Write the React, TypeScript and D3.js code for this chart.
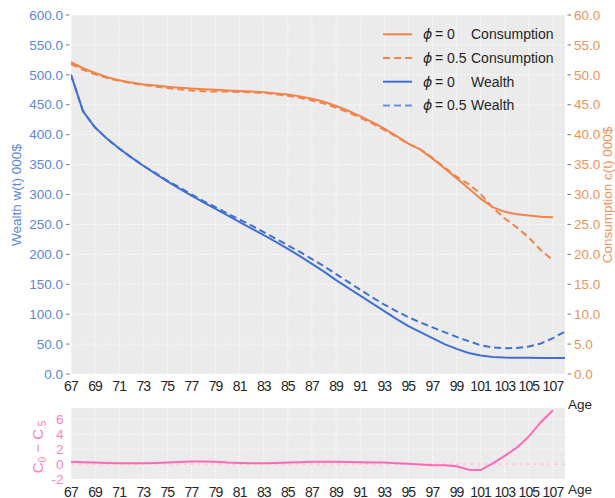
import React from "react";
import * as d3 from "d3";

const agesW = d3.range(67, 109);
const agesC = d3.range(67, 108);

const wealthPhi0 = [500, 439, 412, 393, 377, 362, 348, 335, 322, 310, 298, 287, 276, 265, 254, 243, 232, 221, 209, 197, 184, 171, 157, 144, 131, 118, 105, 92, 80, 70, 60, 50, 42, 35, 31, 28.5, 27.5, 27, 27, 26.8, 26.7, 26.7];
const wealthPhi05 = [500, 439, 412, 393, 377, 362, 348, 336, 323, 312, 300, 289, 279, 268, 258, 248, 237, 226, 215, 204, 192, 180, 167, 154, 141, 128, 116, 105, 95, 86, 78, 70, 62, 55, 48, 44.5, 43, 43.5, 46, 51, 60, 71];

const consPhi0 = [52.1, 51.1, 50.3, 49.6, 49.1, 48.7, 48.4, 48.2, 48.0, 47.85, 47.7, 47.6, 47.5, 47.4, 47.3, 47.2, 47.1, 46.9, 46.7, 46.4, 46.0, 45.5, 44.8, 44.0, 43.1, 42.1, 41.0, 39.8, 38.5, 37.5, 36.0, 34.4, 32.7, 31.0, 29.3, 27.9, 27.1, 26.7, 26.5, 26.3, 26.2];
const consPhi05 = [51.8, 50.85, 50.1, 49.45, 48.98, 48.6, 48.3, 48.05, 47.8, 47.57, 47.37, 47.25, 47.2, 47.2, 47.15, 47.08, 46.98, 46.75, 46.5, 46.15, 45.7, 45.2, 44.5, 43.72, 42.85, 41.88, 40.8, 39.68, 38.45, 37.55, 36.13, 34.53, 32.97, 31.75, 30.1, 27.8, 26.0, 24.5, 22.8, 20.7, 19.0];
const consDiff = [0.3, 0.25, 0.2, 0.15, 0.12, 0.1, 0.1, 0.15, 0.2, 0.28, 0.33, 0.35, 0.3, 0.2, 0.15, 0.12, 0.12, 0.15, 0.2, 0.25, 0.3, 0.3, 0.3, 0.28, 0.25, 0.22, 0.2, 0.12, 0.05, -0.05, -0.15, -0.15, -0.3, -0.75, -0.8, 0.1, 1.1, 2.2, 3.7, 5.6, 7.2];

const xTicks = d3.range(67, 108, 2);
const wealthTicks = d3.range(0, 601, 50);
const consTicks = d3.range(0, 61, 5);
const diffTicks = [-2, 0, 2, 4, 6];

const legendItems = [
  { phi: "= 0", label: "Consumption", color: "#f0844a", dash: "" },
  { phi: "= 0.5", label: "Consumption", color: "#f0844a", dash: "7,4" },
  { phi: "= 0", label: "Wealth", color: "#4170d4", dash: "" },
  { phi: "= 0.5", label: "Wealth", color: "#6a90de", dash: "7,4" },
];

const BLUE = "#4170d4";
const BLUE_T = "#5b87dc";
const ORANGE = "#f0844a";
const ORANGE_T = "#f29157";
const PINK = "#ff69b4";
const PINK_T = "#ff80bf";
const BG = "#ebebeb";
const FONT = "'Liberation Sans', Arial, sans-serif";

export default function App() {
  const left = 71, right = 565;
  const x = d3.scaleLinear().domain([67, 108]).range([left, right]);
  const top1 = 15, bot1 = 374;
  const yW = d3.scaleLinear().domain([0, 600]).range([bot1, top1]);
  const yC = d3.scaleLinear().domain([0, 60]).range([bot1, top1]);
  const top2 = 408, bot2 = 479;
  const yD = d3.scaleLinear().domain([-2, 7.5]).range([bot2, top2]);

  const lineW = (vals: number[]) =>
    d3.line<number>().x((_, i) => x(agesW[i])).y((v) => yW(v))(vals) || "";
  const lineC = (vals: number[]) =>
    d3.line<number>().x((_, i) => x(agesC[i])).y((v) => yC(v))(vals) || "";
  const lineD = d3.line<number>().x((_, i) => x(agesC[i])).y((v) => yD(v))(consDiff) || "";

  const grid = { stroke: "#fff", strokeWidth: 0.9, strokeDasharray: "1.5,1.5" };

  return (
    <svg width={615} height={498} style={{ position: "absolute", left: 0, top: 0, background: "#fff" }} fontFamily={FONT}>
      <defs>
        <clipPath id="clipTop"><rect x={left} y={top1} width={right - left} height={bot1 - top1} /></clipPath>
      </defs>
      {/* top panel */}
      <rect x={left} y={top1} width={right - left} height={bot1 - top1} fill={BG} />
      {xTicks.map((t) => (
        <line key={"gx" + t} x1={x(t)} x2={x(t)} y1={top1} y2={bot1} {...grid} />
      ))}
      {wealthTicks.map((t) => (
        <line key={"gy" + t} x1={left} x2={right} y1={yW(t)} y2={yW(t)} {...grid} />
      ))}
      <g clipPath="url(#clipTop)">
        <path d={lineW(wealthPhi0)} fill="none" stroke={BLUE} strokeWidth={2} />
        <path d={lineW(wealthPhi05)} fill="none" stroke={BLUE} strokeWidth={2} strokeDasharray="7,4" />
        <path d={lineC(consPhi0)} fill="none" stroke={ORANGE} strokeWidth={2} />
        <path d={lineC(consPhi05)} fill="none" stroke={ORANGE} strokeWidth={2} strokeDasharray="7,4" />
      </g>
      {wealthTicks.map((t) => (
        <g key={"yl" + t}>
          <line x1={66} x2={69.5} y1={yW(t)} y2={yW(t)} stroke="#555" strokeWidth={0.8} />
          <text x={63} y={yW(t)} dy="0.35em" textAnchor="end" fontSize={13.5} fill={BLUE_T}>{t.toFixed(1)}</text>
        </g>
      ))}
      {consTicks.map((t) => (
        <g key={"yr" + t}>
          <line x1={567.5} x2={571} y1={yC(t)} y2={yC(t)} stroke="#555" strokeWidth={0.8} />
          <text x={574} y={yC(t)} dy="0.35em" textAnchor="start" fontSize={13.5} fill={ORANGE_T}>{t.toFixed(1)}</text>
        </g>
      ))}
      {xTicks.map((t) => (
        <text key={"xl" + t} x={x(t)} y={390.5} textAnchor="middle" fontSize={14} letterSpacing={-0.9} fill="#262626">{t}</text>
      ))}
      <text x={568} y={409} fontSize={13.5} fill="#262626">Age</text>
      <text transform={`translate(21,195) rotate(-90)`} textAnchor="middle" fontSize={13.5} fill={BLUE_T}>Wealth w(t) 000$</text>
      <text transform={`translate(612,195) rotate(-90)`} textAnchor="middle" fontSize={13.5} fill={ORANGE_T}>Consumption c(t) 000$</text>

      {/* legend */}
      {legendItems.map((it, i) => {
        const cy = 34.3 + i * 23.7;
        return (
          <g key={"lg" + i}>
            <line x1={383} x2={412} y1={cy} y2={cy} stroke={it.color} strokeWidth={2} strokeDasharray={it.dash} />
            <text x={423} y={cy + 5} fontSize={14} fontStyle="italic" fontFamily="'DejaVu Sans', sans-serif" fill="#262626">ϕ</text>
            <text x={435} y={cy + 5} fontSize={14} fill="#262626">{it.phi}</text>
            <text x={471} y={cy + 5} fontSize={14} fill="#262626">{it.label}</text>
          </g>
        );
      })}

      {/* bottom panel */}
      <rect x={left} y={top2} width={right - left} height={bot2 - top2} fill={BG} />
      {xTicks.map((t) => (
        <line key={"bgx" + t} x1={x(t)} x2={x(t)} y1={top2} y2={bot2} {...grid} />
      ))}
      {diffTicks.map((t) => (
        <line key={"bgy" + t} x1={left} x2={right} y1={yD(t)} y2={yD(t)} {...grid} />
      ))}
      <line x1={left} x2={right} y1={yD(0)} y2={yD(0)} stroke="#ffb3d6" strokeWidth={1} strokeDasharray="4,3" />
      <path d={lineD} fill="none" stroke={PINK} strokeWidth={2} />
      {diffTicks.map((t) => (
        <text key={"dl" + t} x={63.5} y={yD(t)} dy="0.35em" textAnchor="end" fontSize={13.5} fill={PINK_T}>{t < 0 ? "-" + Math.abs(t) : t}</text>
      ))}
      {xTicks.map((t) => (
        <text key={"bxl" + t} x={x(t)} y={496.5} textAnchor="middle" fontSize={14} letterSpacing={-0.9} fill="#262626">{t}</text>
      ))}
      <text x={568} y={494} fontSize={13.5} fill="#262626">Age</text>
      <text transform={`translate(43,447) rotate(-90)`} textAnchor="middle" fontSize={15} fill={PINK_T}>
        C<tspan fontSize={10} dy={3}>0</tspan><tspan dy={-3}> − C</tspan><tspan fontSize={10} dy={3}>.5</tspan>
      </text>
    </svg>
  );
}
